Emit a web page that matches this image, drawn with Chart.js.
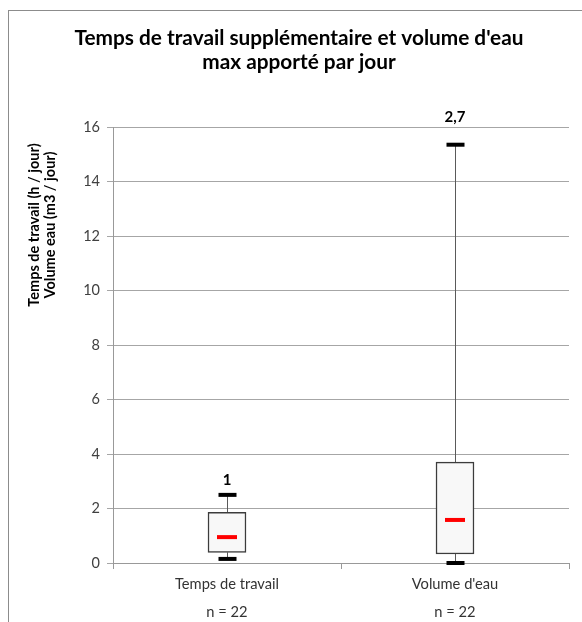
<!DOCTYPE html>
<html><head><meta charset="utf-8">
<script src="https://cdn.jsdelivr.net/npm/chart.js@4.4.0/dist/chart.umd.min.js"></script>
<style>
html,body{margin:0;padding:0;background:#fff;overflow:hidden;}
#wrap{position:relative;width:582px;height:622px;}
#frame{position:absolute;left:8px;top:10px;width:700px;height:700px;border-left:1px solid #8c8c8c;border-top:1px solid #8c8c8c;}
canvas{position:absolute;left:0;top:0;}
</style></head><body>
<div id="wrap"><div id="frame"></div><canvas id="c" width="582" height="622"></canvas></div>
<script>
const categories = ['Temps de travail', "Volume d'eau"];
const sampleSizes = ['n = 22', 'n = 22'];
const minValues = [0.15, 0.0];
const q1Values = [0.39, 0.33];
const medianValues = [0.95, 1.58];
const q3Values = [1.86, 3.7];
const maxValues = [2.5, 15.35];
const topLabels = ['1', '2,7'];
const yTickValues = [0, 2, 4, 6, 8, 10, 12, 14, 16];
const titleLines = ["Temps de travail supplémentaire et volume d'eau", 'max apporté par jour'];
const yTitleLines = ['Temps de travail (h / jour)', 'Volume eau (m3 / jour)'];

const FONT = 'Lato, "Open Sans", sans-serif';

const boxPlugin = {
  id: 'boxParts',
  beforeDatasetsDraw(chart) {
    const ctx = chart.ctx, x = chart.scales.x, y = chart.scales.y;
    ctx.save();
    categories.forEach((c, i) => {
      const px = Math.round(x.getPixelForValue(i)) + 0.5;
      ctx.strokeStyle = '#5a5a5a';
      ctx.lineWidth = 1;
      ctx.beginPath();
      ctx.moveTo(px, y.getPixelForValue(minValues[i]));
      ctx.lineTo(px, y.getPixelForValue(q1Values[i]));
      ctx.moveTo(px, y.getPixelForValue(q3Values[i]));
      ctx.lineTo(px, y.getPixelForValue(maxValues[i]));
      ctx.stroke();
      ctx.fillStyle = '#000';
      [minValues[i], maxValues[i]].forEach(v => {
        const py = y.getPixelForValue(v);
        ctx.fillRect(px - 9, py - 2, 18, 4);
      });
    });
    ctx.restore();
  },
  afterDatasetsDraw(chart) {
    const ctx = chart.ctx, x = chart.scales.x, y = chart.scales.y, area = chart.chartArea;
    ctx.save();
    categories.forEach((c, i) => {
      const px = x.getPixelForValue(i);
      const py = y.getPixelForValue(medianValues[i]);
      ctx.fillStyle = '#ff0000';
      ctx.fillRect(px - 10, py - 2, 20, 4);
      let ly = y.getPixelForValue(maxValues[i]) - 15;
      if (ly < area.top + 10) ly = area.top - 10;
      ctx.fillStyle = '#000';
      ctx.font = 'bold 15px ' + FONT;
      ctx.textAlign = 'center';
      ctx.textBaseline = 'middle';
      ctx.fillText(topLabels[i], px, ly);
    });
    // y axis title
    ctx.translate(0, 225);
    ctx.rotate(-Math.PI / 2);
    ctx.font = 'bold 14.5px ' + FONT;
    ctx.fillStyle = '#000';
    ctx.textAlign = 'center';
    ctx.textBaseline = 'middle';
    ctx.fillText(yTitleLines[0], 0, 34);
    ctx.fillText(yTitleLines[1], 0, 50);
    ctx.restore();
  }
};

new Chart(document.getElementById('c'), {
  type: 'bar',
  data: {
    labels: categories.map((c, i) => [c, sampleSizes[i]]),
    datasets: [{
      data: q1Values.map((q, i) => [q, q3Values[i]]),
      backgroundColor: '#f8f8f8',
      borderColor: '#3c3c3c',
      borderWidth: 1.5,
      borderSkipped: false,
      barThickness: 38
    }]
  },
  options: {
    responsive: false,
    animation: false,
    events: [],
    layout: { padding: { left: 29, right: 13, top: 0, bottom: 0 } },
    plugins: {
      legend: { display: false },
      tooltip: { enabled: false },
      title: {
        display: true,
        text: titleLines,
        color: '#000',
        font: { family: FONT, size: 20.8, weight: 'bold', lineHeight: 24 / 20.8 },
        padding: { top: 26, bottom: 53 }
      }
    },
    scales: {
      x: {
        grid: { display: true, drawOnChartArea: false, tickLength: 6, color: '#999', offset: true },
        border: { color: '#999' },
        ticks: { color: '#333', padding: 1, font: { family: FONT, size: 14.7, lineHeight: 28 / 14.7 } },
        afterFit(s) { s.height = 59; }
      },
      y: {
        min: 0, max: 16,
        afterBuildTicks(s) { s.ticks = yTickValues.map(v => ({ value: v })); },
        grid: { color: '#a6a6a6', tickLength: 6 },
        border: { color: '#999' },
        ticks: { color: '#404040', padding: 7, font: { family: FONT, size: 14.5 } },
        afterFit(s) { s.width = 84; }
      }
    }
  },
  plugins: [boxPlugin]
});
</script>
</body></html>
